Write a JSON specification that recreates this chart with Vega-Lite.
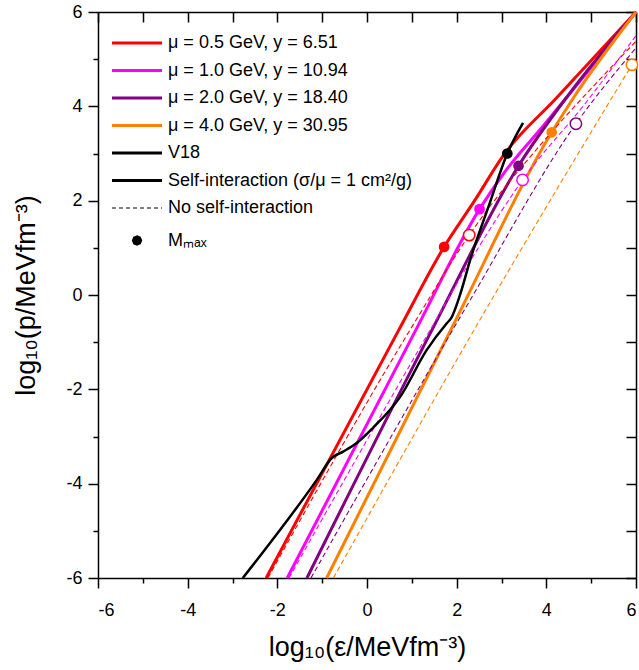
{
  "$schema": "https://vega.github.io/schema/vega-lite/v6.json",
  "width": 538,
  "height": 566,
  "autosize": {"type": "none"},
  "padding": {"left": 98, "top": 12, "right": 3, "bottom": 92},
  "background": "white",
  "config": {
    "view": {"stroke": null},
    "font": "Liberation Sans",
    "axis": {
      "grid": false,
      "domainColor": "black",
      "tickColor": "black",
      "labelColor": "black",
      "titleColor": "black",
      "tickWidth": 1.5,
      "domainWidth": 1.5,
      "labelFont": "Liberation Sans",
      "labelFontSize": 18,
      "titleFont": "Liberation Sans",
      "titleFontSize": 27,
      "titleFontWeight": "normal"
    }
  },
  "datasets": {
    "curves": [
      {"c": "r-si", "mu": "0.5", "k": "si", "x": -2.25, "y": -6},
      {"c": "r-si", "mu": "0.5", "k": "si", "x": 0.71, "y": -0.74},
      {"c": "r-si", "mu": "0.5", "k": "si", "x": 1.72, "y": 1.02},
      {"c": "r-si", "mu": "0.5", "k": "si", "x": 2.4, "y": 2.0},
      {"c": "r-si", "mu": "0.5", "k": "si", "x": 3.05, "y": 2.97},
      {"c": "r-si", "mu": "0.5", "k": "si", "x": 4.22, "y": 4.17},
      {"c": "r-si", "mu": "0.5", "k": "si", "x": 6, "y": 6},
      {"c": "m-si", "mu": "1.0", "k": "si", "x": -1.78, "y": -6},
      {"c": "m-si", "mu": "1.0", "k": "si", "x": 1.09, "y": -0.74},
      {"c": "m-si", "mu": "1.0", "k": "si", "x": 2.51, "y": 1.82},
      {"c": "m-si", "mu": "1.0", "k": "si", "x": 3.05, "y": 2.58},
      {"c": "m-si", "mu": "1.0", "k": "si", "x": 3.9, "y": 3.55},
      {"c": "m-si", "mu": "1.0", "k": "si", "x": 6, "y": 6},
      {"c": "p-si", "mu": "2.0", "k": "si", "x": -1.34, "y": -6},
      {"c": "p-si", "mu": "2.0", "k": "si", "x": 1.45, "y": -0.74},
      {"c": "p-si", "mu": "2.0", "k": "si", "x": 3.38, "y": 2.74},
      {"c": "p-si", "mu": "2.0", "k": "si", "x": 4.5, "y": 4.25},
      {"c": "p-si", "mu": "2.0", "k": "si", "x": 6, "y": 6},
      {"c": "o-si", "mu": "4.0", "k": "si", "x": -0.90, "y": -6},
      {"c": "o-si", "mu": "4.0", "k": "si", "x": 1.89, "y": -0.70},
      {"c": "o-si", "mu": "4.0", "k": "si", "x": 4.12, "y": 3.45},
      {"c": "o-si", "mu": "4.0", "k": "si", "x": 4.57, "y": 4.13},
      {"c": "o-si", "mu": "4.0", "k": "si", "x": 6, "y": 6},
      {"c": "r-nsi", "mu": "0.5", "k": "nsi", "x": -2.21, "y": -6},
      {"c": "r-nsi", "mu": "0.5", "k": "nsi", "x": 0.96, "y": -0.74},
      {"c": "r-nsi", "mu": "0.5", "k": "nsi", "x": 2.28, "y": 1.27},
      {"c": "r-nsi", "mu": "0.5", "k": "nsi", "x": 4.16, "y": 3.5},
      {"c": "r-nsi", "mu": "0.5", "k": "nsi", "x": 5.27, "y": 4.65},
      {"c": "r-nsi", "mu": "0.5", "k": "nsi", "x": 6, "y": 5.38},
      {"c": "m-nsi", "mu": "1.0", "k": "nsi", "x": -1.74, "y": -6},
      {"c": "m-nsi", "mu": "1.0", "k": "nsi", "x": 1.41, "y": -0.74},
      {"c": "m-nsi", "mu": "1.0", "k": "nsi", "x": 2.45, "y": 0.95},
      {"c": "m-nsi", "mu": "1.0", "k": "nsi", "x": 3.47, "y": 2.44},
      {"c": "m-nsi", "mu": "1.0", "k": "nsi", "x": 4.9, "y": 4.1},
      {"c": "m-nsi", "mu": "1.0", "k": "nsi", "x": 6, "y": 5.5},
      {"c": "p-nsi", "mu": "2.0", "k": "nsi", "x": -1.25, "y": -6},
      {"c": "p-nsi", "mu": "2.0", "k": "nsi", "x": 2.30, "y": -0.11},
      {"c": "p-nsi", "mu": "2.0", "k": "nsi", "x": 4.66, "y": 3.63},
      {"c": "p-nsi", "mu": "2.0", "k": "nsi", "x": 6, "y": 5.24},
      {"c": "o-nsi", "mu": "4.0", "k": "nsi", "x": -0.75, "y": -6},
      {"c": "o-nsi", "mu": "4.0", "k": "nsi", "x": 2.67, "y": -0.28},
      {"c": "o-nsi", "mu": "4.0", "k": "nsi", "x": 5.91, "y": 4.88},
      {"c": "o-nsi", "mu": "4.0", "k": "nsi", "x": 6, "y": 5.02},
      {"c": "v18", "mu": "V18", "k": "v18", "x": -2.77, "y": -6},
      {"c": "v18", "mu": "V18", "k": "v18", "x": -1.12, "y": -3.92},
      {"c": "v18", "mu": "V18", "k": "v18", "x": -0.78, "y": -3.45},
      {"c": "v18", "mu": "V18", "k": "v18", "x": -0.53, "y": -3.32},
      {"c": "v18", "mu": "V18", "k": "v18", "x": -0.23, "y": -3.14},
      {"c": "v18", "mu": "V18", "k": "v18", "x": 0.13, "y": -2.82},
      {"c": "v18", "mu": "V18", "k": "v18", "x": 0.74, "y": -2.16},
      {"c": "v18", "mu": "V18", "k": "v18", "x": 1.33, "y": -1.17},
      {"c": "v18", "mu": "V18", "k": "v18", "x": 1.78, "y": -0.6},
      {"c": "v18", "mu": "V18", "k": "v18", "x": 1.87, "y": -0.5},
      {"c": "v18", "mu": "V18", "k": "v18", "x": 2.11, "y": 0.11},
      {"c": "v18", "mu": "V18", "k": "v18", "x": 2.30, "y": 0.74},
      {"c": "v18", "mu": "V18", "k": "v18", "x": 2.72, "y": 1.9},
      {"c": "v18", "mu": "V18", "k": "v18", "x": 3.13, "y": 3.0},
      {"c": "v18", "mu": "V18", "k": "v18", "x": 3.48, "y": 3.65}
    ],
    "mmax": [
      {"mu": "0.5", "k": "si", "x": 1.72, "y": 1.02},
      {"mu": "1.0", "k": "si", "x": 2.51, "y": 1.82},
      {"mu": "2.0", "k": "si", "x": 3.38, "y": 2.74},
      {"mu": "4.0", "k": "si", "x": 4.12, "y": 3.45},
      {"mu": "V18", "k": "si", "x": 3.13, "y": 3.0},
      {"mu": "0.5", "k": "nsi", "x": 2.28, "y": 1.27},
      {"mu": "1.0", "k": "nsi", "x": 3.47, "y": 2.44},
      {"mu": "2.0", "k": "nsi", "x": 4.66, "y": 3.63},
      {"mu": "4.0", "k": "nsi", "x": 5.91, "y": 4.88}
    ],
    "legend": [
      {"leg": "μ = 0.5 GeV, y = 6.51"},
      {"leg": "μ = 1.0 GeV, y = 10.94"},
      {"leg": "μ = 2.0 GeV, y = 18.40"},
      {"leg": "μ = 4.0 GeV, y = 30.95"},
      {"leg": "V18"},
      {"leg": "Self-interaction (σ/μ = 1 cm²/g)"},
      {"leg": "No self-interaction"},
      {"leg": "Mₘₐₓ"}
    ]
  },
  "layer": [
    {
      "data": {"name": "curves"},
      "transform": [{"filter": "datum.k === 'si'"}],
      "mark": {"type": "line", "strokeWidth": 3, "interpolate": "monotone"},
      "encoding": {
        "x": {"field": "x", "type": "quantitative", "scale": {"domain": [-6, 6], "nice": false, "zero": false},
          "axis": {"orient": "bottom", "values": [-6, -4, -2, 0, 2, 4, 6], "tickSize": 10, "labelPadding": 13, "labelExpr": "'' + datum.value", "title": "log₁₀(ε/MeVfm⁻³)", "titlePadding": 15}},
        "y": {"field": "y", "type": "quantitative", "scale": {"domain": [-6, 6], "nice": false, "zero": false},
          "axis": {"orient": "left", "values": [-6, -4, -2, 0, 2, 4, 6], "tickSize": 10, "labelPadding": 6, "labelExpr": "'' + datum.value", "title": "log₁₀(p/MeVfm⁻³)", "titlePadding": 25}},
        "detail": {"field": "c"},
        "color": {"field": "mu", "type": "nominal", "scale": {"domain": ["0.5", "1.0", "2.0", "4.0", "V18"], "range": ["#ff0000", "#ff00ff", "#800080", "#ff8000", "#000000"]}, "legend": null}
      }
    },
    {
      "data": {"name": "curves"},
      "transform": [{"filter": "datum.k === 'nsi'"}],
      "mark": {"type": "line", "strokeWidth": 1.1, "strokeDash": [5, 3], "interpolate": "monotone"},
      "encoding": {
        "x": {"field": "x", "type": "quantitative", "axis": {"orient": "bottom", "values": [-5, -3, -1, 1, 3, 5], "tickSize": 5, "labels": false, "domain": false, "title": null}},
        "y": {"field": "y", "type": "quantitative", "axis": {"orient": "left", "values": [-5, -3, -1, 1, 3, 5], "tickSize": 5, "labels": false, "domain": false, "title": null}},
        "detail": {"field": "c"},
        "color": {"field": "mu", "type": "nominal", "scale": {"domain": ["0.5", "1.0", "2.0", "4.0", "V18"], "range": ["#ff0000", "#ff00ff", "#800080", "#ff8000", "#000000"]}, "legend": null}
      }
    },
    {
      "data": {"name": "curves"},
      "transform": [{"filter": "datum.k === 'v18'"}],
      "mark": {"type": "line", "strokeWidth": 2.5, "color": "black", "interpolate": "monotone"},
      "encoding": {
        "x": {"field": "x", "type": "quantitative", "axis": {"orient": "top", "values": [-6, -5, -4, -3, -2, -1, 0, 1, 2, 3, 4, 5, 6], "tickSize": -10, "labels": false, "title": null}},
        "y": {"field": "y", "type": "quantitative", "axis": {"orient": "right", "values": [-6, -5, -4, -3, -2, -1, 0, 1, 2, 3, 4, 5, 6], "tickSize": -10, "labels": false, "title": null}}
      }
    },
    {
      "data": {"name": "mmax"},
      "transform": [{"filter": "datum.k === 'si'"}],
      "mark": {"type": "point", "shape": "circle", "filled": true, "size": 115, "opacity": 1},
      "encoding": {
        "x": {"field": "x", "type": "quantitative", "axis": null},
        "y": {"field": "y", "type": "quantitative", "axis": null},
        "color": {"field": "mu", "type": "nominal", "scale": {"domain": ["0.5", "1.0", "2.0", "4.0", "V18"], "range": ["#ff0000", "#ff00ff", "#800080", "#ff8000", "#000000"]}, "legend": null}
      }
    },
    {
      "data": {"name": "mmax"},
      "transform": [{"filter": "datum.k === 'nsi'"}],
      "mark": {"type": "point", "shape": "circle", "filled": true, "fill": "white", "size": 130, "strokeWidth": 1.5, "opacity": 1},
      "encoding": {
        "x": {"field": "x", "type": "quantitative", "axis": null},
        "y": {"field": "y", "type": "quantitative", "axis": null},
        "stroke": {"field": "mu", "type": "nominal", "scale": {"domain": ["0.5", "1.0", "2.0", "4.0", "V18"], "range": ["#ff0000", "#ff00ff", "#800080", "#ff8000", "#000000"]}, "legend": null}
      }
    },
    {
      "data": {"name": "legend"},
      "mark": {"type": "point"},
      "encoding": {
        "x": {"field": "nx", "type": "quantitative", "axis": null},
        "y": {"field": "ny", "type": "quantitative", "axis": null},
        "color": {
          "field": "leg", "type": "nominal",
          "scale": {
            "domain": ["μ = 0.5 GeV, y = 6.51", "μ = 1.0 GeV, y = 10.94", "μ = 2.0 GeV, y = 18.40", "μ = 4.0 GeV, y = 30.95", "V18", "Self-interaction (σ/μ = 1 cm²/g)", "No self-interaction", "Mₘₐₓ"],
            "range": ["#ff0000", "#ff00ff", "#800080", "#ff8000", "#000000", "#000000", "#000000", "#000000"]
          },
          "legend": {
            "title": null,
            "orient": "none",
            "legendX": 30,
            "legendY": 22,
            "padding": 0,
            "symbolType": {"expr": "datum.value === 'Mₘₐₓ' ? 'M-0.2,0L-0.14,-0.14L0,-0.2L0.14,-0.14L0.2,0L0.14,0.14L0,0.2L-0.14,0.14Z' : 'M-2.5,0H2.5'"},
            "symbolSize": 400,
            "symbolStrokeWidth": {"expr": "datum.value === 'No self-interaction' ? 1 : (datum.value === 'Mₘₐₓ' ? 6 : 3)"},
            "symbolDash": {"expr": "datum.value === 'No self-interaction' ? [4, 3] : [1, 0]"},
            "symbolOpacity": 1,
            "labelFont": "Liberation Sans",
            "labelFontSize": 18,
            "labelColor": "black",
            "labelOffset": 22,
            "labelLimit": 0,
            "rowPadding": 9.5
          }
        }
      }
    }
  ],
  "resolve": {
    "scale": {"color": "independent", "stroke": "independent"},
    "axis": {"x": "independent", "y": "independent"}
  }
}
